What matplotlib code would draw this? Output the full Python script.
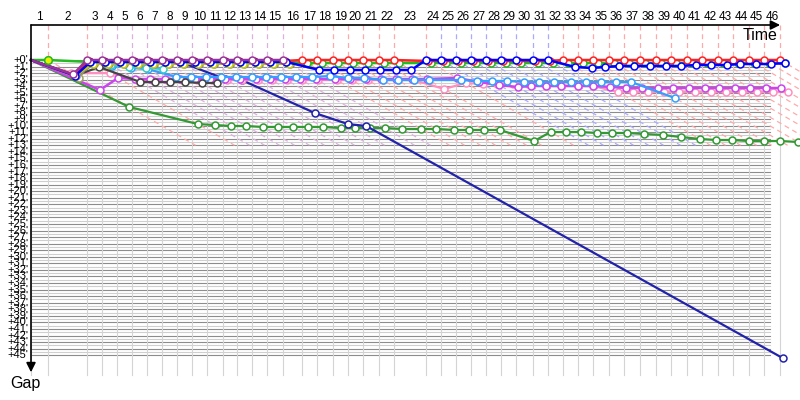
import matplotlib
matplotlib.use("Agg")
import matplotlib.pyplot as plt
import numpy as np

# ---------------- data ----------------
LAP_LABELS = [str(i) for i in range(1, 47)]
# leader's elapsed time (minutes) at the end of each lap (index 0 = start)
LAP_TIMES = [0.0, 1.50, 4.93, 6.26, 7.58, 8.90, 10.22, 11.54, 12.86, 14.19, 15.51,
             16.92, 18.15, 19.47, 20.79, 22.20, 23.88, 25.20, 26.61, 27.93, 29.25,
             30.66, 31.98, 34.80, 36.12, 37.44, 38.77, 40.09, 41.41, 42.73, 44.23,
             45.55, 46.87, 48.19, 49.52, 50.93, 52.25, 53.66, 55.07, 56.39, 57.80,
             59.12, 60.53, 61.85, 63.26, 64.58, 65.99]
LAP_LINE_COLORS = (["#ffaaaa"] * 2 + ["#ddb0dd"] * 13 + ["#ffaaaa"] * 8 +
                   ["#aaaaff"] * 8 + ["#ffaaaa"] * 15)
GAP_TICKS = list(range(0, 46))
GAP_LABELS = ["+%d'" % g for g in GAP_TICKS]

# gap to the leader (minutes) per completed lap, lap 0 = start
TOP_GREEN = [0, 0] + [0.3] * 14 + [0.46] * 16 + [0.46] * 15
RED = [0, 2.3] + [0.15] * 14 + [0] * 7 + [0.15] * 9 + [0] * 15
BLUE = ([0, 2.4] + [0.3] * 14 + [1.52] * 7 + [0] * 9 +
        [1.07, 1.22, 1.07, 0.91, 0.91, 0.91, 0.91, 0.91, 0.76, 0.76, 0.76,
         0.61, 0.61, 0.61, 0.46])
PURPLE = [0, 2.2] + [0] * 14
YELLOW = [0, 2.4] + [0.55] * 15
OLIVE = [0, 2.74, 0.3] + [0.45] * 13
GRAY = [0, 2.5] + [0.6] * 14
BLACK = [0, 2.4, 1.07, 3.35, 3.35, 3.35, 3.35, 3.5, 3.5]
CYAN = [0, 2.3, 0.46, 0.76, 1.07, 1.22, 1.37]
SKY = ([0, 2.3, 0.6, 0.9, 1.2, 1.4] + [2.59] * 10 + [2.44] + [2.74] * 2 +
       [3.05] * 5 + [3.2] * 3 + [3.35] * 8 + [5.79])
PINK = ([0, 2.0, 2.0] + [3.05] * 19 + [4.42] + [3.5] + [3.66] * 4 +
        [3.96] * 4 + [4.88] * 12)
MAGENTA = ([0, 4.57, 2.74] + [2.9] * 20 + [2.74] + [3.35, 3.81, 4.12] +
           [3.96] * 5 + [4.1] + [4.27] * 11)
DARK_GREEN = [0, 7.16, 9.76, 9.91, 10.06, 10.06] + [10.21] * 5 + [10.37] * 4 + \
             [10.52] * 3 + [10.67] * 4 + [12.35] + [10.98] * 3 + [11.13] * 3 + \
             [11.28, 11.43, 11.74, 12.04, 12.2, 12.2, 12.35, 12.35, 12.35, 12.5]
NAVY = [0, 2.3] + [0.3] * 7 + [2.9, 3.05, 8.08, 9.76, 10.06, 45.43]

CARS = [  # (gaps, colour, linewidth)
    (DARK_GREEN, "#339933", 1.6),
    (NAVY, "#2222aa", 1.6),
    (PINK, "#ff8fbf", 1.6),
    (MAGENTA, "#cc44ee", 1.8),
    (SKY, "#33a0ff", 1.6),
    (CYAN, "#33cccc", 1.6),
    (BLACK, "#444444", 1.6),
    (OLIVE, "#a0a060", 1.6),
    (GRAY, "#888888", 1.6),
    (YELLOW, "#cccc00", 1.6),
    (TOP_GREEN, "#22bb22", 1.8),
    (RED, "#ff2222", 1.8),
    (BLUE, "#0000ff", 1.8),
    (PURPLE, "#993399", 1.8),
]

# ---------------- layout ----------------
W, H = 800, 400
X0, XS = 31, 11.35      # pixel of time 0, px per minute
Y0, YS = 60, 6.56       # pixel of gap 0, px per minute

fig = plt.figure(figsize=(W / 100, H / 100), dpi=100)
ax = fig.add_axes([0, 0, 1, 1])
ax.set_xlim(-X0 / XS, (W - X0) / XS)
ax.set_ylim((H - Y0) / YS, -Y0 / YS)
ax.axis("off")

TOP = -35 / YS          # gap value of the time axis line
GRID_END = 65.1
GRID_BOTTOM = 48.0

# horizontal grid
for g in np.arange(0, 45.01, 0.5):
    major = abs(g - round(g)) < 1e-6
    ax.plot([0, GRID_END], [g, g], color="#8c8c8c" if major else "#cfcfcf",
            lw=0.8, zorder=1)
# vertical grid
for t in LAP_TIMES:
    ax.plot([t, t], [0, GRID_BOTTOM], color="#d4d4d4", lw=0.8, zorder=1)
# leader lines (vertical above zero and diagonals)
for t, c in zip(LAP_TIMES[1:], LAP_LINE_COLORS):
    ax.plot([t, t], [TOP, 0], color=c, lw=0.9, ls=(0, (4, 3)), zorder=2)
    L = 13.0
    ax.plot([t, t + L], [0, L], color=c, lw=0.9, ls=(0, (4, 3)), zorder=2)

# cars
for z, (gaps, col, lw) in enumerate(CARS):
    laps = np.arange(len(gaps))
    g = np.array(gaps, dtype=float)
    x = np.array(LAP_TIMES)[laps] + g
    ax.plot(x, g, "-", color=col, lw=lw, zorder=5 + 2 * z)
    ax.plot(x[1:], g[1:], "o", ms=5, mfc="white", mec=col, mew=1.1,
            zorder=6 + 2 * z)
# lap-1 leader marker
ax.plot(LAP_TIMES[1] + TOP_GREEN[1], TOP_GREEN[1], "o", ms=5.5, mfc="#eeee00",
        mec="#22bb22", mew=1.1, zorder=60)

# axes with arrows
ax.annotate("", xy=(66.0, TOP), xytext=(0, TOP),
            arrowprops=dict(arrowstyle="-|>", color="black", lw=1.2,
                            mutation_scale=14, shrinkA=0, shrinkB=0), zorder=70)
ax.annotate("", xy=(0, 47.6), xytext=(0, TOP),
            arrowprops=dict(arrowstyle="-|>", color="black", lw=1.2,
                            mutation_scale=14, shrinkA=0, shrinkB=0), zorder=70)

FONT = "Liberation Sans"
for i, lab in enumerate(LAP_LABELS):
    xm = (LAP_TIMES[i] + LAP_TIMES[i + 1]) / 2
    ax.text(xm, -43 / YS, lab, ha="center", va="center", fontsize=8.5,
            family=FONT)
for g, lab in zip(GAP_TICKS, GAP_LABELS):
    ax.text(-2.5 / XS, g, lab, ha="right", va="center", fontsize=8,
            family=FONT)
ax.text((760 - X0) / XS, -25 / YS, "Time", ha="center", va="center",
        fontsize=11.5, family=FONT)
ax.text((25 - X0) / XS, 324 / YS, "Gap", ha="center", va="center",
        fontsize=11.5, family=FONT)

fig.savefig("out.png", dpi=100)
